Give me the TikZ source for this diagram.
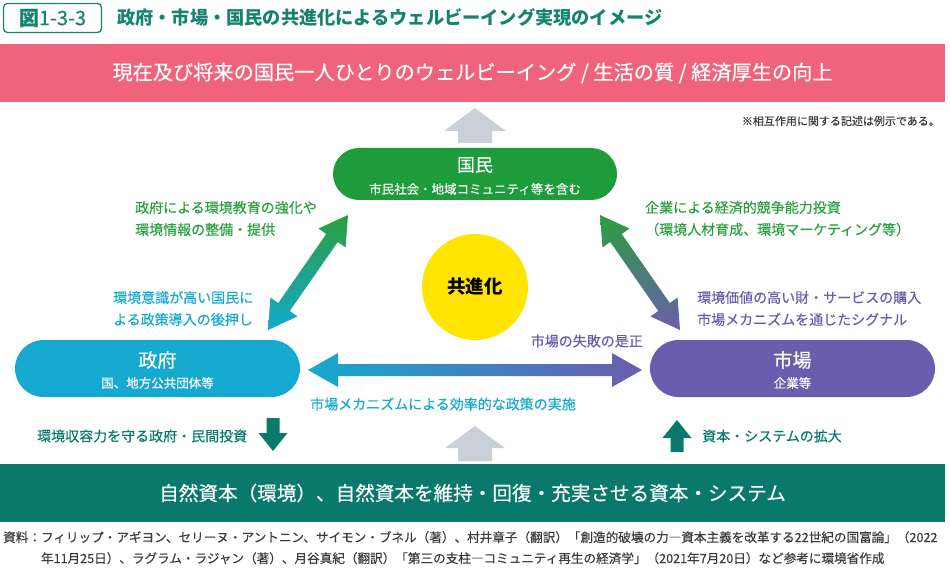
\documentclass[tikz,border=0pt]{standalone}
\usepackage{fontspec}
\setmainfont{Noto Sans CJK JP}
\newfontfamily\mdfont{Noto Sans CJK JP}[FakeBold=0.35]
\usetikzlibrary{calc,positioning}

\definecolor{wbpink}{HTML}{F1637A}
\definecolor{kgreen}{HTML}{1E9B3A}
\definecolor{lgreen}{HTML}{2A9F3E}
\definecolor{gcyan}{HTML}{15A9CF}
\definecolor{mpurple}{HTML}{6B5DAE}
\definecolor{nteal}{HTML}{08796A}
\definecolor{tteal}{HTML}{16836F}
\definecolor{agray}{HTML}{C9D0DA}
\definecolor{kyellow}{HTML}{FFE500}
\definecolor{hblue}{HTML}{2E8BC6}
\definecolor{srcgray}{HTML}{3C3C3C}

\newcommand\fsz[1]{\mdfont\fontsize{#1}{#1}\selectfont}

% fat arrows: start, end, head length, head half width, shaft half width
\tikzset{
  dblarrow/.style n args={5}{insert path={(#1)
    -- ($(#1)!#3!(#2)!#4!90:(#2)$) -- ($(#1)!#3!(#2)!#5!90:(#2)$)
    -- ($(#2)!#3!(#1)!#5!-90:(#1)$) -- ($(#2)!#3!(#1)!#4!-90:(#1)$)
    -- (#2)
    -- ($(#2)!#3!(#1)!#4!90:(#1)$) -- ($(#2)!#3!(#1)!#5!90:(#1)$)
    -- ($(#1)!#3!(#2)!#5!-90:(#2)$) -- ($(#1)!#3!(#2)!#4!-90:(#2)$) -- cycle}},
  sglarrow/.style n args={5}{insert path={(#2)
    -- ($(#2)!#3!(#1)!#4!90:(#1)$) -- ($(#2)!#3!(#1)!#5!90:(#1)$)
    -- ($(#1)!#5!-90:(#2)$) -- ($(#1)!#5!90:(#2)$)
    -- ($(#2)!#3!(#1)!#5!-90:(#1)$) -- ($(#2)!#3!(#1)!#4!-90:(#1)$) -- cycle}}
}

\begin{document}
\begin{tikzpicture}[x=1pt,y=-1pt,
  txt/.style={inner sep=0pt, font=\fsz{14}},
  band/.style={inner sep=0pt, minimum width=945pt, minimum height=58pt, text=white},
  pill/.style={rounded corners=#1, inner sep=0pt, minimum width=285pt, minimum height=2*#1},
  lines/.style={txt, align=left, anchor=west, font=\mdfont\fontsize{14}{22}\selectfont}]
  \useasboundingbox (0,0) rectangle (950,569);

  % heading
  \node[draw=tteal, line width=1.3pt, rounded corners=4pt, minimum width=98pt, minimum height=29pt,
        inner sep=0pt, text=tteal, font=\fsz{20}] (fig) at (52.5,18) {{\bfseries 図}1-3-3};
  \node[txt, anchor=west, text=tteal, font=\fontsize{18.2}{18}\selectfont\bfseries] (ttl) at (117,17)
    {政府・市場・国民の共進化によるウェルビーイング実現のイメージ};

  % bands
  \node[band, fill=wbpink, font=\fsz{20.2}] (wb) at (472.5,73) {現在及び将来の国民一人ひとりのウェルビーイング / 生活の質 / 経済厚生の向上};
  \node[band, fill=nteal, font=\fsz{19.6}] (nc) at (472.5,493) {自然資本（環境）、自然資本を維持・回復・充実させる資本・システム};
  \node[txt, anchor=east, text=srcgray, font=\fsz{11}] (note) at (940,121) {※相互作用に関する記述は例示である。};

  % actors
  \node[pill=26pt, fill=kgreen, minimum width=284pt] (kokumin) at (475,174) {};
  \node[txt, text=white, font=\fsz{18}] (kokuminT) at (475,165) {国民};
  \node[txt, text=white, font=\fsz{12.5}] (kokuminS) at (475,189) {市民社会・地域コミュニティ等を含む};

  \node[pill=28.5pt, fill=gcyan] (seifu) at (157.5,368.5) {};
  \node[txt, text=white, font=\fsz{19}] (seifuT) at (157.5,360) {政府};
  \node[txt, text=white, font=\fsz{12.5}] (seifuS) at (157.5,383) {国、地方公共団体等};

  \node[pill=28.5pt, fill=mpurple] (shijo) at (792.5,368.5) {};
  \node[txt, text=white, font=\fsz{19}] (shijoT) at (792.5,360) {市場};
  \node[txt, text=white, font=\fsz{12.5}] (shijoS) at (792.5,383) {企業等};

  \node[circle, fill=kyellow, minimum size=106pt, inner sep=0pt, font=\fontsize{18.5}{18}\selectfont\bfseries] (kyo) at (475,287) {共進化};

  % arrow ends
  \coordinate (gk) at (268,330);  \coordinate (kg) at (348,215);
  \coordinate (ks) at (600,215);  \coordinate (sk) at (680,330);
  \coordinate (gs) at (308,370);  \coordinate (sg) at (642,370);
  \coordinate (up1) at (475,143); \coordinate (up2) at (475,108);
  \coordinate (lo1) at (475,461); \coordinate (lo2) at (475,426);
  \coordinate (dn1) at (273,418); \coordinate (dn2) at (273,451);
  \coordinate (ex1) at (677,452); \coordinate (ex2) at (677,420);

  \shade[top color=lgreen, bottom color=gcyan, dblarrow={gk}{kg}{28pt}{16.5pt}{7pt}];
  \shade[top color=lgreen, bottom color=mpurple, dblarrow={ks}{sk}{28pt}{16.5pt}{7pt}];
  \shade[left color=gcyan, middle color=hblue, right color=mpurple, dblarrow={gs}{sg}{30pt}{17pt}{6pt}];
  \fill[agray, sglarrow={up1}{up2}{23pt}{31pt}{17pt}];
  \fill[agray, sglarrow={lo1}{lo2}{22pt}{30pt}{17pt}];
  \fill[nteal, sglarrow={dn1}{dn2}{18pt}{14.5pt}{6.5pt}];
  \fill[nteal, sglarrow={ex1}{ex2}{18pt}{14.5pt}{6.5pt}];

  % interactions
  \node[lines, text=lgreen] (edu) at (135,218.5) {政府による環境教育の強化や\\環境情報の整備・提供};
  \node[lines, text=lgreen] (inv) at (645,218.5) {企業による経済的競争能力投資\\（環境人材育成、環境マーケティング等）};
  \node[lines, text=gcyan] (push) at (113,308.5) {環境意識が高い国民に\\よる政策導入の後押し};
  \node[lines, text=mpurple] (buy) at (697,308.5) {環境価値の高い財・サービスの購入\\市場メカニズムを通じたシグナル};
  \node[txt, anchor=east, text=mpurple] (fail) at (643,341) {市場の失敗の是正};
  \node[txt, anchor=west, text=gcyan] (mech) at (310,404) {市場メカニズムによる効率的な政策の実施};
  \node[txt, anchor=west, text=nteal] (cap) at (37,436) {環境収容力を守る政府・民間投資};
  \node[txt, anchor=west, text=nteal] (sys) at (702,436) {資本・システムの拡大};

  % source
  \node[inner sep=0pt, anchor=north west, align=left, text=srcgray, font=\mdfont\fontsize{12.6}{21}\selectfont] (src) at (3,531)
    {資料：フィリップ・アギヨン、セリーヌ・アントニン、サイモン・ブネル（著）、村井章子（翻訳）「創造的破壊の力―資本主義を改革する22世紀の国富論」（2022\\
     \hspace*{3em}年11月25日）、ラグラム・ラジャン（著）、月谷真紀（翻訳）「第三の支柱―コミュニティ再生の経済学」（2021年7月20日）など参考に環境省作成};
\end{tikzpicture}
\end{document}
